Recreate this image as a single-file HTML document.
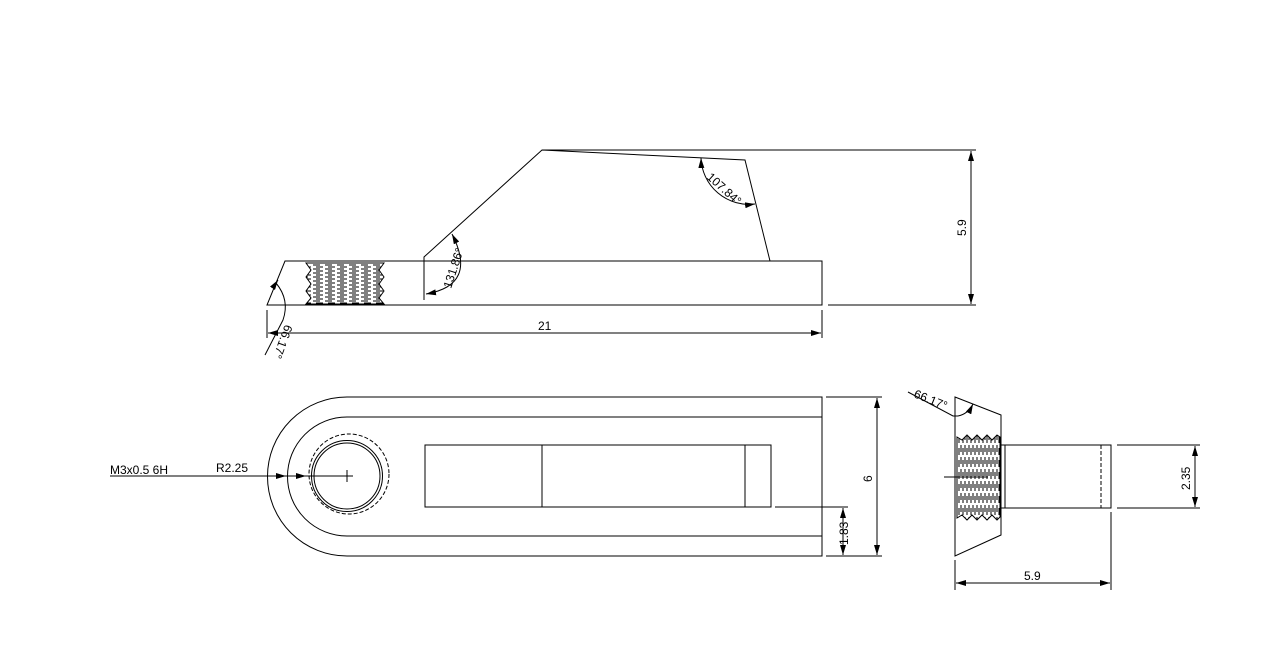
<!DOCTYPE html>
<html><head><style>
html,body{margin:0;padding:0;background:#fff;}
svg{display:block;}
text{font-family:"Liberation Sans",Arial,sans-serif;font-size:12px;fill:#000;}
</style></head><body>
<svg width="1270" height="652" viewBox="0 0 1270 652" xmlns="http://www.w3.org/2000/svg">
<defs>
<marker id="a" viewBox="0 0 10 6" refX="10" refY="3" markerWidth="10" markerHeight="6" orient="auto-start-reverse" markerUnits="userSpaceOnUse"><path d="M0,0 L10,3 L0,6 Z" fill="#000"/></marker>
<pattern id="th" width="12" height="4" patternUnits="userSpaceOnUse"><path d="M1,1 H8 M4,3 H11" stroke="#000" stroke-width="1"/></pattern>
<pattern id="tv" width="4" height="12" patternUnits="userSpaceOnUse"><path d="M1,1 V8 M3,4 V11" stroke="#000" stroke-width="1"/></pattern>
</defs>
<g fill="none" stroke="#000" stroke-width="1">
<polygon points="285,261 822,261 822,305 267,305"/>
<polyline points="424,300 424,257 542,150 745,160 770,261"/>
<line x1="542" y1="150" x2="976" y2="150"/>
<line x1="828" y1="305" x2="976" y2="305"/>
<line x1="971" y1="151" x2="971" y2="304" marker-start="url(#a)" marker-end="url(#a)"/>
<line x1="267" y1="310" x2="267" y2="338"/>
<line x1="822" y1="310" x2="822" y2="338"/>
<line x1="268" y1="333" x2="821" y2="333" marker-start="url(#a)" marker-end="url(#a)"/>
<path d="M452,234 Q478,285 426,294" marker-start="url(#a)" marker-end="url(#a)"/>
<path d="M701,158 A48,48 0 0 0 755,204" marker-start="url(#a)" marker-end="url(#a)"/>
<path d="M276,283 Q290,300 283,320 L265,355" />
<path d="M276,283 l2,-3" marker-end="url(#a)"/>
<path d="M306,263 L384,263 L379,270 L384,277 L379,284 L384,291 L379,298 L384,304 L306,304 L311,298 L306,291 L311,284 L306,277 L311,270 Z" fill="url(#th)"/>
<path d="M822,397 H347 A79.5,79.5 0 0 0 347,556 H822 Z"/>
<path d="M822,417 H347 A59.5,59.5 0 0 0 347,536 H822"/>
<circle cx="347" cy="476" r="33"/>
<circle cx="347" cy="476" r="35.5"/>
<circle cx="349" cy="474" r="40" stroke-dasharray="4,2"/>
<line x1="341" y1="476" x2="353" y2="476"/><line x1="347" y1="470" x2="347" y2="482"/>
<rect x="425" y="445" width="346" height="62"/>
<line x1="542" y1="445" x2="542" y2="507"/>
<line x1="745" y1="445" x2="745" y2="507"/>
<line x1="110" y1="476" x2="347" y2="476"/>
<line x1="260" y1="476" x2="286" y2="476" marker-end="url(#a)"/>
<line x1="280" y1="476" x2="306" y2="476" marker-end="url(#a)"/>
<line x1="826" y1="397" x2="882" y2="397"/>
<line x1="826" y1="556" x2="882" y2="556"/>
<line x1="877" y1="398" x2="877" y2="555" marker-start="url(#a)" marker-end="url(#a)"/>
<line x1="775" y1="507" x2="848" y2="507"/>
<line x1="843" y1="508" x2="843" y2="555" marker-start="url(#a)" marker-end="url(#a)"/>
<polygon points="955,397 1001,415 1001,535 955,556"/>
<path d="M957,437 L962,440 L967,435 L972,440 L977,435 L982,440 L987,435 L992,440 L997,435 L1000,437 L1000,517 L997,520 L992,515 L987,520 L982,515 L977,520 L972,515 L967,520 L962,515 L957,518 Z" fill="url(#tv)"/>
<line x1="944" y1="477" x2="988" y2="477"/>
<rect x="1005" y="445" width="106" height="63"/>
<line x1="1001" y1="445" x2="1005" y2="445"/><line x1="1001" y1="508" x2="1005" y2="508"/>
<line x1="1101" y1="445" x2="1101" y2="508" stroke-dasharray="4,2"/>
<line x1="1117" y1="445" x2="1200" y2="445"/>
<line x1="1117" y1="508" x2="1200" y2="508"/>
<line x1="1195" y1="446" x2="1195" y2="507" marker-start="url(#a)" marker-end="url(#a)"/>
<line x1="955" y1="560" x2="955" y2="590"/>
<line x1="1111" y1="512" x2="1111" y2="590"/>
<line x1="956" y1="583" x2="1110" y2="583" marker-start="url(#a)" marker-end="url(#a)"/>
<polyline points="908,392 953,416 958,416"/>
<path d="M958,416 Q968,414 973,404" marker-end="url(#a)"/>
</g>
<text x="538" y="330">21</text>
<text transform="translate(966,236) rotate(-90)">5.9</text>
<text transform="translate(451,289) rotate(-72)">131.86°</text>
<text transform="translate(706,178) rotate(42)">107.84°</text>
<text transform="translate(285,324) rotate(110)">66.17°</text>
<text x="110" y="474">M3x0.5 6H</text>
<text x="216" y="472">R2.25</text>
<text transform="translate(872,482) rotate(-90)">6</text>
<text transform="translate(848,545) rotate(-90)">1.83</text>
<text transform="translate(1190,490) rotate(-90)">2.35</text>
<text x="1024" y="580">5.9</text>
<text transform="translate(913,397) rotate(22)">66.17°</text>
</svg>
</body></html>
